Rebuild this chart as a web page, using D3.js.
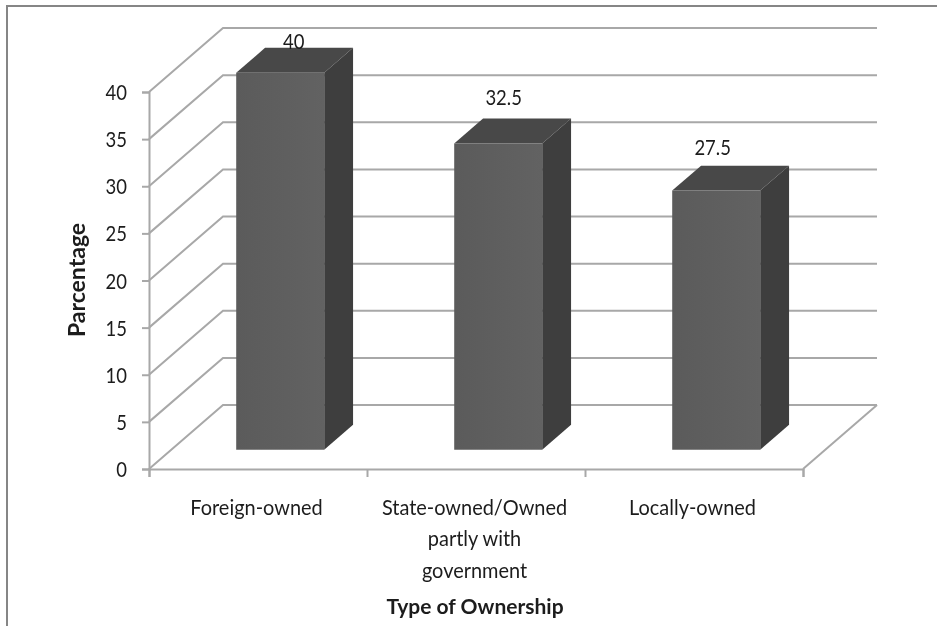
<!DOCTYPE html>
<html>
<head>
<meta charset="utf-8">
<script src="https://d3js.org/d3.v7.min.js"></script>
<style>
  html, body { margin: 0; padding: 0; background: #fff; }
  svg { display: block; filter: blur(0.55px); }
  text { font-family: Lato, "Open Sans", sans-serif; fill: #1c1c1c; }
</style>
</head>
<body>
<div class="canvas"></div>
<script>
// Chart data
const categories = ['Foreign-owned', 'State-owned/Owned partly with government', 'Locally-owned'];
const values = [40, 32.5, 27.5];
const valueLabels = ['40', '32.5', '27.5'];
const yTicks = [0, 5, 10, 15, 20, 25, 30, 35, 40];
const categoryLines = [['Foreign-owned'], ['State-owned/Owned', 'partly with', 'government'], ['Locally-owned']];
const yTitle = 'Parcentage';
const xTitle = 'Type of Ownership';

// Data labels were dragged by hand in the original, so each has its own nudge
const labelLift = [-1, 14, 11];
const labelShift = [2, -6, -15];

const width = 937;
const height = 626;
const frontLeft = 149, frontRight = 803, floorY = 469, topY = 92;
// Depth of the 3D box: how far the back wall is shifted
const depthX = 74, depthY = 64;
const barFront = 0.3, barBack = 0.69, barWidth = 88;
// Original glyphs are narrower than Lato
const digitScale = 0.88, labelScale = 0.95;

const svg = d3.select('.canvas')
                .append('svg')
                .attr('width', width)
                .attr('height', height);

// Frame: only top and left edges are inside the picture
svg.append('path')
    .attr('d', `M7,${height} V6 H${width}`)
    .attr('fill', 'none')
    .attr('stroke', '#868686')
    .attr('stroke-width', 2);

const y = d3.scaleLinear().domain([0, 40]).range([floorY, topY]);
const x = d3.scaleBand().domain(categories).range([frontLeft, frontRight]);
const edge = d3.scaleLinear().domain([0, categories.length]).range([frontLeft, frontRight]);

// Move a front-plane point back into the box, z from 0 to 1
const px = (vx, z) => vx + depthX * z;
const py = (vy, z) => vy - depthY * z;

const line = d3.line();
const gridColor = '#a8a8a8';

// Walls: diagonal from the axis then along the back wall
svg.append('g').selectAll('path')
    .data(yTicks)
    .enter()
    .append('path')
    .attr('d', d => line([
        [frontLeft, y(d)],
        [px(frontLeft, 1), py(y(d), 1)],
        [px(frontRight, 1), py(y(d), 1)]
    ]))
    .attr('fill', 'none')
    .attr('stroke', gridColor)
    .attr('stroke-width', 2);

// Floor right edge
svg.append('path')
    .attr('d', line([
        [frontRight, floorY],
        [px(frontRight, 1), py(floorY, 1)]
    ]))
    .attr('fill', 'none')
    .attr('stroke', gridColor)
    .attr('stroke-width', 2);

// Axes
const yAxis = d3.axisLeft(y).tickValues(yTicks).tickSize(7);
const xAxis = d3.axisBottom(edge).tickValues(d3.range(categories.length + 1)).tickSize(8).tickFormat('');

const yAxisGroup = svg.append('g')
    .attr('transform', `translate(${frontLeft}, 0)`)
    .call(yAxis);
const xAxisGroup = svg.append('g')
    .attr('transform', `translate(0, ${floorY})`)
    .call(xAxis);

[yAxisGroup, xAxisGroup].forEach(g => {
    g.selectAll('path, line').attr('stroke', gridColor).attr('stroke-width', 2);
});
yAxisGroup.selectAll('text')
    .attr('font-size', 21)
    .attr('fill', '#1c1c1c')
    .attr('x', -22 / digitScale)
    .attr('dy', '0.36em')
    .attr('transform', `scale(${digitScale}, 1)`);

// Bars
const bars = svg.append('g').selectAll('g')
    .data(categories.map((c, i) => ({ c, v: values[i], i })))
    .enter()
    .append('g');

const barLeft = d => x(d.c) + (x.bandwidth() - barWidth) / 2;

const grad = svg.append('defs').append('linearGradient')
    .attr('id', 'frontFill')
    .attr('x1', 0).attr('x2', 1).attr('y1', 0).attr('y2', 0);
grad.append('stop').attr('offset', '0%').attr('stop-color', '#5b5b5b');
grad.append('stop').attr('offset', '100%').attr('stop-color', '#626262');

const poly = pts => line(pts) + 'Z';

// top
bars.append('path')
    .attr('fill', '#484848')
    .attr('d', d => {
        const l = barLeft(d), r = l + barWidth, t = y(d.v);
        return poly([[px(l, barFront), py(t, barFront)], [px(r, barFront), py(t, barFront)],
                     [px(r, barBack), py(t, barBack)], [px(l, barBack), py(t, barBack)]]);
    });
// side
bars.append('path')
    .attr('fill', '#3e3e3e')
    .attr('d', d => {
        const r = barLeft(d) + barWidth, t = y(d.v);
        return poly([[px(r, barFront), py(t, barFront)], [px(r, barBack), py(t, barBack)],
                     [px(r, barBack), py(floorY, barBack)], [px(r, barFront), py(floorY, barFront)]]);
    });
// front
bars.append('path')
    .attr('fill', 'url(#frontFill)')
    .attr('d', d => {
        const l = barLeft(d), r = l + barWidth, t = y(d.v);
        return poly([[px(l, barFront), py(t, barFront)], [px(r, barFront), py(t, barFront)],
                     [px(r, barFront), py(floorY, barFront)], [px(l, barFront), py(floorY, barFront)]]);
    });

// Data labels
bars.append('text')
    .attr('transform', d => {
        const lx = px(barLeft(d) + barWidth / 2, (barFront + barBack) / 2) - 3 + labelShift[d.i];
        const ly = py(y(d.v), barBack) - labelLift[d.i];
        return `translate(${lx}, ${ly}) scale(${digitScale}, 1)`;
    })
    .attr('text-anchor', 'middle')
    .attr('font-size', 21)
    .text(d => valueLabels[d.i]);

// Category labels
const catLabels = svg.append('g').selectAll('text')
    .data(categoryLines)
    .enter()
    .append('text')
    .attr('transform', (d, i) => `translate(${x(categories[i]) + x.bandwidth() / 2 - 1.5}, 0) scale(${labelScale}, 1)`)
    .attr('text-anchor', 'middle')
    .attr('font-size', 21);

catLabels.selectAll('tspan')
    .data(d => d)
    .enter()
    .append('tspan')
    .attr('x', 0)
    .attr('y', (d, j) => 515 + j * 31.5)
    .text(d => d);

// Axis titles
svg.append('text')
    .attr('x', 475).attr('y', 614)
    .attr('text-anchor', 'middle')
    .attr('font-size', 21)
    .attr('font-weight', 700)
    .text(xTitle);

svg.append('text')
    .attr('transform', 'translate(85, 280) rotate(-90)')
    .attr('text-anchor', 'middle')
    .attr('font-size', 23)
    .attr('font-weight', 700)
    .text(yTitle);
</script>
</body>
</html>
